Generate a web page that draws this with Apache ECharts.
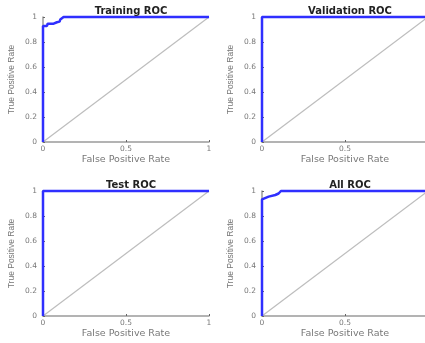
<!DOCTYPE html>
<html>
<head>
<meta charset="utf-8">
<script src="https://cdn.jsdelivr.net/npm/echarts@6/dist/echarts.min.js"></script>
<style>
  html, body { margin: 0; padding: 0; background: #fff; }
  #chart { width: 425px; height: 343px; }
</style>
</head>
<body>
<div id="chart"></div>
<script>
// ROC curves for each data split (false positive rate vs true positive rate)
const panelTitles = ['Training ROC', 'Validation ROC', 'Test ROC', 'All ROC'];

const trainFpr = [0, 0, 0.024, 0.028, 0.064, 0.084, 0.1, 0.104, 0.124, 1];
const trainTpr = [0, 0.928, 0.928, 0.947, 0.947, 0.958, 0.963, 0.98, 1, 1];

const validFpr = [0, 0, 1];
const validTpr = [0, 1, 1];

const testFpr = [0, 0, 1];
const testTpr = [0, 1, 1];

const allFpr = [0, 0, 0.01, 0.04, 0.08, 0.1, 0.114, 1];
const allTpr = [0, 0.933, 0.949, 0.955, 0.968, 0.98, 1, 1];

const diagFpr = [0, 1];
const diagTpr = [0, 1];

const xTicks = [0, 0.5, 1];
const yTicks = [0, 0.2, 0.4, 0.6, 0.8, 1];

const curves = [
  [trainFpr, trainTpr],
  [validFpr, validTpr],
  [testFpr, testTpr],
  [allFpr, allTpr]
];

const pairs = (xs, ys) => xs.map((x, i) => [x, ys[i]]);

const grids = [
  { left: 43, top: 17, width: 166, height: 125 },
  { left: 262, top: 17, width: 166, height: 125 },
  { left: 43, top: 191, width: 166, height: 125 },
  { left: 262, top: 191, width: 166, height: 125 }
];

const option = {
  animation: false,
  backgroundColor: '#ffffff',
  title: grids.map((g, i) => ({
    text: panelTitles[i],
    left: g.left + g.width / 2,
    top: g.top - 16,
    textAlign: 'center',
    textStyle: { fontFamily: 'DejaVu Sans', fontSize: 10, fontWeight: 'bold', color: '#222' }
  })),
  grid: grids.map(g => Object.assign({ containLabel: false, outerBoundsMode: 'none' }, g)),
  xAxis: grids.map((g, i) => ({
    gridIndex: i,
    type: 'value',
    min: 0, max: 1, interval: 0.5,
    name: 'False Positive Rate',
    nameLocation: 'middle',
    nameGap: 13,
    nameTextStyle: { fontFamily: 'DejaVu Sans', fontSize: 9.5, color: '#777' },
    axisLine: { show: true, lineStyle: { color: '#9a9a9a', width: 1.5 } },
    axisTick: { show: true, inside: true, length: 2, lineStyle: { color: '#666' } },
    axisLabel: {
      fontFamily: 'DejaVu Sans', fontSize: 7.5, color: '#777', margin: 3,
      formatter: v => xTicks.includes(v) ? String(v) : ''
    },
    splitLine: { show: false }
  })),
  yAxis: grids.map((g, i) => ({
    gridIndex: i,
    type: 'value',
    min: 0, max: 1, interval: 0.2,
    name: 'True Positive Rate',
    nameLocation: 'middle',
    nameGap: 27,
    nameTextStyle: { fontFamily: 'Liberation Sans', fontSize: 8.5, color: '#777' },
    axisLine: { show: true, lineStyle: { color: '#9a9a9a', width: 1.5 } },
    axisTick: { show: true, inside: true, length: 2, lineStyle: { color: '#666' } },
    axisLabel: {
      fontFamily: 'DejaVu Sans', fontSize: 7.5, color: '#777', margin: 6,
      formatter: v => {
        const t = yTicks.find(y => Math.abs(y - v) < 1e-9);
        return t === undefined ? '' : String(t);
      }
    },
    splitLine: { show: false }
  })),
  series: []
};

grids.forEach((g, i) => {
  option.series.push({
    type: 'line',
    xAxisIndex: i, yAxisIndex: i,
    data: pairs(diagFpr, diagTpr),
    symbol: 'none',
    lineStyle: { color: '#bdbdbd', width: 1.2 },
    z: 2
  });
  option.series.push({
    type: 'line',
    xAxisIndex: i, yAxisIndex: i,
    data: pairs(curves[i][0], curves[i][1]),
    symbol: 'none',
    clip: false,
    lineStyle: { color: '#2f2fff', width: 2.5 },
    z: 3
  });
});

const chart = echarts.init(document.getElementById('chart'), null, { renderer: 'canvas' });
chart.setOption(option);
</script>
</body>
</html>
